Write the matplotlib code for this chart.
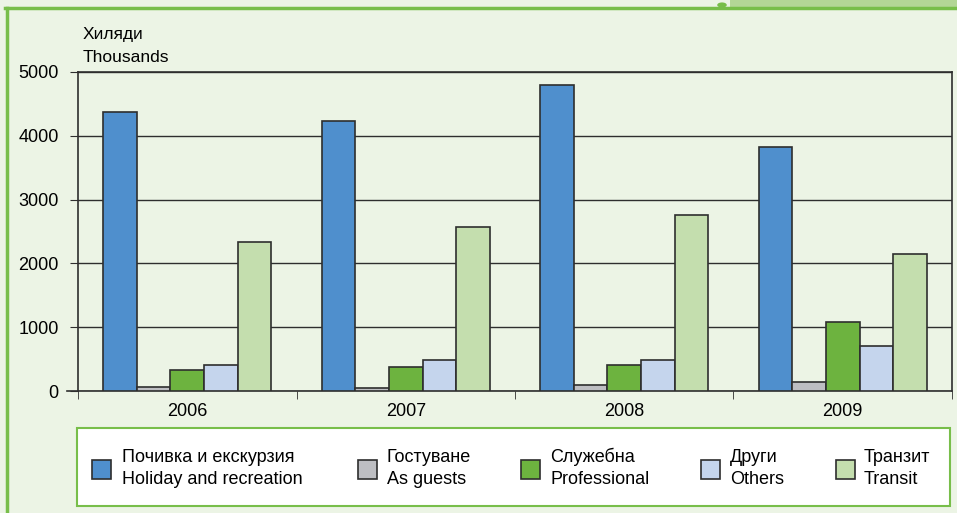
import numpy as np
import matplotlib.pyplot as plt
from matplotlib.patches import Rectangle, Circle

plt.rcParams['font.family'] = ['Liberation Sans', 'DejaVu Sans']

years = ['2006', '2007', '2008', '2009']
labels_bg = ['Почивка и екскурзия', 'Гостуване', 'Служебна', 'Други', 'Транзит']
labels_en = ['Holiday and recreation', 'As guests', 'Professional', 'Others', 'Transit']
holiday = [4370, 4230, 4790, 3830]
guests = [60, 50, 90, 140]
professional = [330, 375, 405, 1080]
others = [405, 485, 485, 705]
transit = [2330, 2570, 2760, 2150]
series = [holiday, guests, professional, others, transit]
colors = ['#4F8FCD', '#BDBEC2', '#6DB33F', '#C5D5ED', '#C4DEAE']

bg = '#ECF4E5'
green = '#78BE4A'
dark = '#2E2E2E'
W, H = 957, 513


def fx(px):
    return px / W


def fy(py):
    return 1 - py / H


fig = plt.figure(figsize=(9.57, 5.13), dpi=100, facecolor=bg)

# outer frame decoration
fig.add_artist(plt.Line2D([fx(5), 1], [fy(8), fy(8)], color=green, lw=2.5))
fig.add_artist(plt.Line2D([fx(7), fx(7)], [0, fy(8)], color=green, lw=2.5))
fig.add_artist(Rectangle((fx(730), fy(7)), fx(227), 7 / H,
                         transform=fig.transFigure, color='#B3D696', lw=0))
fig.add_artist(Circle((fx(722), fy(5)), 0.005, transform=fig.transFigure,
                      color=green, lw=0))

ax = fig.add_axes([fx(78), 122 / H, fx(874), 319 / H])
ax.set_facecolor(bg)

x = np.arange(len(years))
w = 0.154
for i, (vals, c) in enumerate(zip(series, colors)):
    ax.bar(x + (i - 2) * w, vals, w, color=c, edgecolor=dark, linewidth=1.2, zorder=3)

ax.set_xlim(-0.5, len(years) - 0.5)
ax.set_ylim(0, 5000)
ax.set_yticks(range(0, 5001, 1000))
ax.yaxis.grid(True, color=dark, lw=1, zorder=1)
ax.set_xticks(x)
ax.set_xticklabels(years, fontsize=13)
ax.set_xticks(np.arange(-0.5, len(years)), minor=True)
ax.tick_params(axis='x', which='major', length=0, pad=9)
ax.tick_params(axis='x', which='minor', length=6, color=dark, direction='out')
ax.tick_params(axis='y', labelsize=13, length=6, color=dark, pad=8)
for s in ax.spines.values():
    s.set_color(dark)
    s.set_linewidth(1.2)
ax.spines['bottom'].set_bounds(-0.55, len(years) - 0.5)

fig.text(fx(83), fy(34), 'Хиляди', fontsize=12.5, va='center')
fig.text(fx(83), fy(57), 'Thousands', fontsize=12.5, va='center')

# legend box drawn by hand
fig.add_artist(Rectangle((fx(77), fy(506)), fx(873), 78 / H, transform=fig.transFigure,
                         facecolor='white', edgecolor=green, lw=1.5))
patch_x = [92, 358, 521, 701, 836]
text_x = [122, 387, 550, 730, 864]
for px, tx, c, lb, le in zip(patch_x, text_x, colors, labels_bg, labels_en):
    fig.add_artist(Rectangle((fx(px), fy(479)), fx(19), 19 / H, transform=fig.transFigure,
                             facecolor=c, edgecolor=dark, lw=1.2))
    fig.text(fx(tx), fy(457), lb, fontsize=13, va='center')
    fig.text(fx(tx), fy(480), le, fontsize=13, va='center')

fig.savefig('out.png', dpi=100, facecolor=bg)
